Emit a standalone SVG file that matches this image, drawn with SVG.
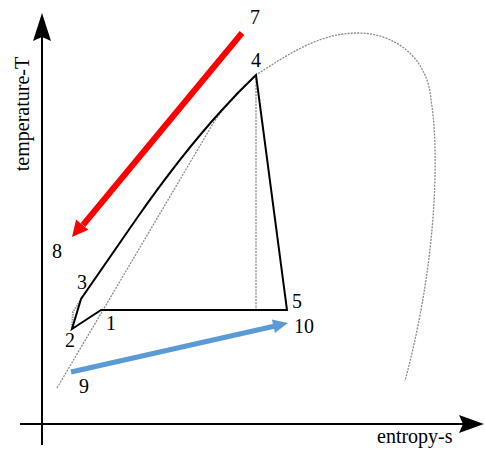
<svg xmlns="http://www.w3.org/2000/svg" width="485" height="451" viewBox="0 0 485 451">
<style>
text{font-family:"Liberation Serif","Times New Roman",serif;font-size:20px;fill:#000}
.axis{stroke:#000;stroke-width:2;fill:none}
.dome{stroke:#8a8a8a;stroke-width:1.3;stroke-dasharray:2 1.2;fill:none}
.cycle{stroke:#000;stroke-width:2;fill:none;stroke-linejoin:miter}
</style>
<rect width="485" height="451" fill="#fff"/>
<g id="axes">
<line class="axis" x1="42" y1="445" x2="42" y2="30"/>
<polygon points="42,13 51,41 42,37 33,41" fill="#000"/>
<line class="axis" x1="20" y1="424" x2="470" y2="424"/>
<polygon points="484,424 459,433 463,424 459,415" fill="#000"/>
<text transform="translate(29,114) rotate(-90)" text-anchor="middle">temperature-T</text>
<text x="377" y="443">entropy-s</text>
</g>
<g id="dome">
<path class="dome" d="M57,388 L211,127 Q220,112 231,101 L256,75 C290,53 320,33 358,33 C395,33 428,58 431,100 C438,140 440,250 405,381"/>
<line class="dome" x1="256" y1="75" x2="256" y2="310"/>
<path d="M72,328 L73,312 L80,301" stroke="#9a9a9a" stroke-width="2" stroke-dasharray="1.5 1" fill="none"/>
</g>
<g id="cycle">
<path class="cycle" d="M101,310 L72,329 L81,299 L137,218 C158,188 190,145 222,110 Q238,92 256,75 L287,310 Z"/>
</g>
<g id="connectors">
<line x1="242" y1="33" x2="83" y2="225" stroke="#ff0000" stroke-width="6"/>
<polygon points="72,237 88.3,229.8 76.1,219.6" fill="#ff0000"/>
<line x1="71" y1="372" x2="274" y2="326.3" stroke="#5b9bd5" stroke-width="5"/>
<polygon points="288,323 274.9,333.1 271.9,319.5" fill="#5b9bd5"/>
</g>
<g id="labels">
<text x="250" y="24">7</text>
<text x="251" y="67">4</text>
<text x="52" y="258">8</text>
<text x="77" y="289">3</text>
<text x="65" y="347">2</text>
<text x="106" y="330">1</text>
<text x="292" y="308">5</text>
<text x="294" y="333">10</text>
<text x="79" y="393">9</text>
</g>
</svg>
